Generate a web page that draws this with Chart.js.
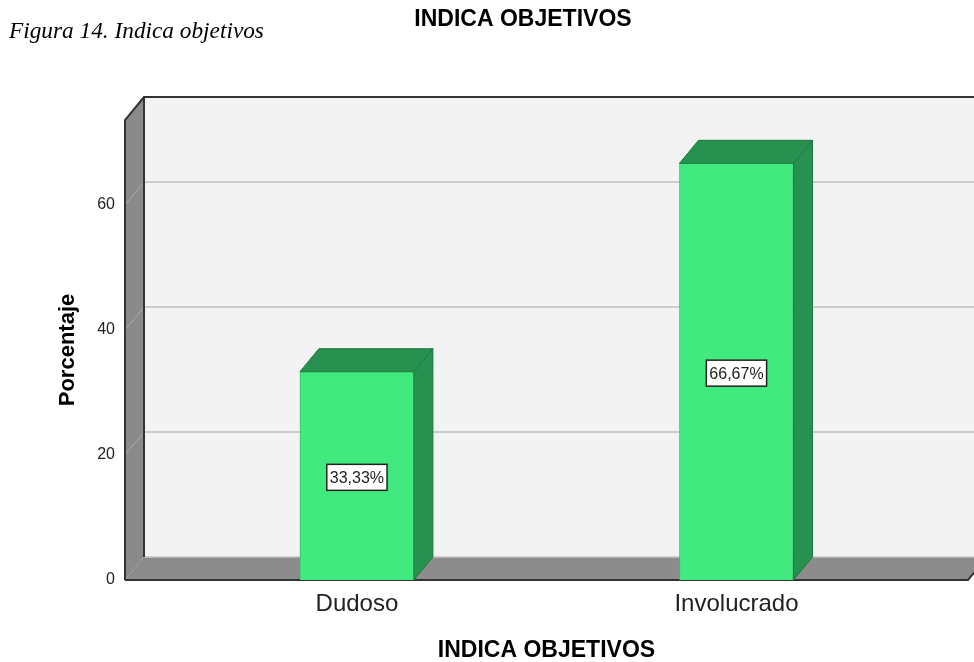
<!DOCTYPE html>
<html>
<head>
<meta charset="utf-8">
<script src="https://cdn.jsdelivr.net/npm/chart.js@4/dist/chart.umd.min.js"></script>
<style>
  html, body { margin: 0; padding: 0; background: #ffffff; }
  #wrap { position: relative; width: 974px; height: 662px; }
  canvas { display: block; }
</style>
</head>
<body>
<div id="wrap"><canvas id="c" width="974" height="662"></canvas></div>
<script>
// ---- data ----
const categories = ['Dudoso', 'Involucrado'];
const percentValues = [33.33, 66.67];
const valueLabels = ['33,33%', '66,67%'];
const yTickValues = [0, 20, 40, 60];
const chartTitle = 'INDICA OBJETIVOS';
const xAxisTitle = 'INDICA OBJETIVOS';
const yAxisTitle = 'Porcentaje';
const figureCaption = 'Figura 14. Indica objetivos';

// ---- style constants ----
const DEPTH_X = 19, DEPTH_Y = -23;
const SANS = '"Liberation Sans", Arial, sans-serif';

const points = categories.map((c, i) => ({ x: i, y: percentValues[i] }));

const headerPlugin = {
  id: 'header',
  afterDraw(chart) {
    const ctx = chart.ctx;
    ctx.save();
    ctx.fillStyle = '#000';
    ctx.textBaseline = 'alphabetic';
    ctx.textAlign = 'left';
    ctx.font = 'italic 23.3px "Liberation Serif", "Times New Roman", serif';
    ctx.fillText(figureCaption, 9, 38);
    ctx.textAlign = 'center';
    ctx.textBaseline = 'alphabetic';
    ctx.font = 'bold 23px ' + SANS;
    ctx.fillText(chartTitle, 523, 26);
    ctx.restore();
  }
};

const wallsPlugin = {
  id: 'walls',
  beforeDatasetsDraw(chart) {
    const ctx = chart.ctx;
    const { left, right, top, bottom } = chart.chartArea;
    const ys = chart.scales.y;
    const dx = DEPTH_X, dy = DEPTH_Y;
    ctx.save();
    // back wall
    ctx.fillStyle = '#f3f3f3';
    ctx.fillRect(left + dx, top + dy, right - left, bottom - top);
    // grid lines on back wall
    ctx.strokeStyle = '#bfbfbf';
    ctx.lineWidth = 1.5;
    yTickValues.forEach(v => {
      if (v === 0) return;
      const py = ys.getPixelForValue(v);
      ctx.beginPath();
      ctx.moveTo(left + dx, py + dy);
      ctx.lineTo(right + dx + 30, py + dy);
      ctx.stroke();
    });
    // left wall
    ctx.fillStyle = '#8a8a8a';
    ctx.beginPath();
    ctx.moveTo(left, bottom);
    ctx.lineTo(left, top);
    ctx.lineTo(left + dx, top + dy);
    ctx.lineTo(left + dx, bottom + dy);
    ctx.closePath();
    ctx.fill();
    // diagonals on left wall
    ctx.strokeStyle = '#aaaaaa';
    ctx.lineWidth = 1;
    yTickValues.forEach(v => {
      const py = ys.getPixelForValue(v);
      ctx.beginPath();
      ctx.moveTo(left, py);
      ctx.lineTo(left + dx, py + dy);
      ctx.stroke();
    });
    // floor
    ctx.fillStyle = '#8c8c8c';
    ctx.beginPath();
    ctx.moveTo(left, bottom);
    ctx.lineTo(right, bottom);
    ctx.lineTo(right + dx, bottom + dy);
    ctx.lineTo(left + dx, bottom + dy);
    ctx.closePath();
    ctx.fill();
    // floor back edge highlight
    ctx.strokeStyle = '#c4c4c4';
    ctx.lineWidth = 1.5;
    ctx.beginPath();
    ctx.moveTo(left + dx, bottom + dy);
    ctx.lineTo(right + dx + 30, bottom + dy);
    ctx.stroke();
    // dark edges
    ctx.strokeStyle = '#333333';
    ctx.lineWidth = 2;
    ctx.beginPath();
    ctx.moveTo(left, bottom);
    ctx.lineTo(left, top);
    ctx.lineTo(left + dx, top + dy);
    ctx.lineTo(right + dx + 30, top + dy);
    ctx.moveTo(left + dx, top + dy);
    ctx.lineTo(left + dx, bottom + dy);
    ctx.moveTo(left, bottom);
    ctx.lineTo(right, bottom);
    ctx.lineTo(right + dx, bottom + dy);
    ctx.stroke();
    ctx.restore();
  },
  afterDatasetsDraw(chart) {
    const ctx = chart.ctx;
    const meta = chart.getDatasetMeta(0);
    const dx = DEPTH_X, dy = DEPTH_Y;
    ctx.save();
    meta.data.forEach((bar, i) => {
      const { x, y, base, width } = bar.getProps(['x', 'y', 'base', 'width'], true);
      const L = x - width / 2, R = x + width / 2;
      ctx.fillStyle = '#27914f';
      ctx.strokeStyle = '#1f7a41';
      ctx.lineWidth = 1;
      // side face
      ctx.beginPath();
      ctx.moveTo(R, base);
      ctx.lineTo(R, y);
      ctx.lineTo(R + dx, y + dy);
      ctx.lineTo(R + dx, base + dy);
      ctx.closePath();
      ctx.fill();
      ctx.stroke();
      // top face
      ctx.beginPath();
      ctx.moveTo(L, y);
      ctx.lineTo(R, y);
      ctx.lineTo(R + dx, y + dy);
      ctx.lineTo(L + dx, y + dy);
      ctx.closePath();
      ctx.fill();
      ctx.stroke();
      // value label box
      const cy = (y + base) / 2 + 1.5;
      ctx.font = '16px ' + SANS;
      const tw = ctx.measureText(valueLabels[i]).width;
      const bw = tw + 6, bh = 26;
      ctx.fillStyle = '#ffffff';
      ctx.fillRect(x - bw / 2, cy - bh / 2, bw, bh);
      ctx.strokeStyle = '#222222';
      ctx.lineWidth = 1.5;
      ctx.strokeRect(x - bw / 2, cy - bh / 2, bw, bh);
      ctx.fillStyle = '#222222';
      ctx.textAlign = 'center';
      ctx.textBaseline = 'middle';
      ctx.fillText(valueLabels[i], x, cy + 1);
    });
    ctx.restore();
  }
};

new Chart(document.getElementById('c'), {
  type: 'bar',
  data: {
    datasets: [{
      data: points,
      backgroundColor: '#41e97e',
      borderColor: '#33c466',
      borderWidth: 1,
      barThickness: 114
    }]
  },
  options: {
    responsive: false,
    animation: false,
    events: [],
    layout: { padding: { top: 120, right: 6, left: 0, bottom: 0 } },
    plugins: {
      legend: { display: false },
      title: { display: false },
      tooltip: { enabled: false }
    },
    scales: {
      x: {
        type: 'linear',
        position: 'bottom',
        offset: false,
        min: -0.611,
        max: 1.610,
        grid: { display: false, offset: false },
        border: { display: false },
        afterFit: (s) => { s.height = 82; },
        ticks: {
          stepSize: 1,
          autoSkip: false,
          maxRotation: 0,
          padding: 2,
          color: '#222',
          font: { family: SANS, size: 24 },
          callback: (v) => (Number.isInteger(v) && categories[v] !== undefined) ? categories[v] : ''
        },
        title: {
          display: true,
          text: xAxisTitle,
          color: '#000',
          padding: { top: 0, bottom: -2 },
          font: { family: SANS, size: 23, weight: 'bold' }
        }
      },
      y: {
        type: 'linear',
        position: 'left',
        min: 0,
        max: 73.6,
        grid: { display: false },
        border: { display: false },
        afterFit: (s) => { s.width = 125; },
        afterBuildTicks: (s) => { s.ticks = yTickValues.map(v => ({ value: v })); },
        ticks: {
          padding: 2,
          color: '#222',
          font: { family: SANS, size: 16 },
          callback: (v) => String(v)
        },
        title: {
          display: true,
          text: yAxisTitle,
          color: '#000',
          padding: { top: 55, bottom: 0 },
          font: { family: SANS, size: 22, weight: 'bold' }
        }
      }
    }
  },
  plugins: [wallsPlugin, headerPlugin]
});
</script>
</body>
</html>
